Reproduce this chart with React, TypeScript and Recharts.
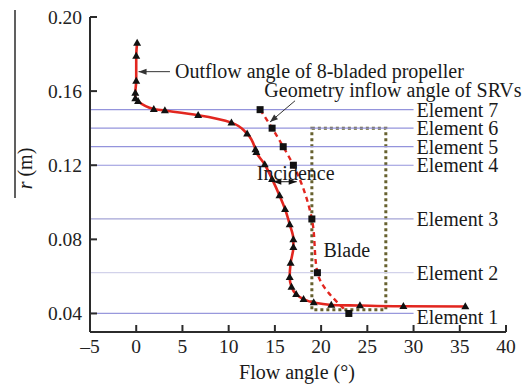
import React from 'react';
import {
  ComposedChart,
  Line,
  Scatter,
  XAxis,
  YAxis,
  ReferenceLine,
  ReferenceArea,
  Label,
} from 'recharts';

// Outflow angle of the 8-bladed propeller (solid curve, triangle markers)
const outflowAngle = [
  0.1, 0, 0, -0.1, -0.1, 0.2, 1.9, 3.1, 6.7, 10.3, 12.0, 12.9, 13.0, 13.9, 14.7,
  15.5, 16.1, 16.6, 17.0, 17.0, 16.7, 16.6, 16.8, 17.3, 18.1, 19.2, 21.1, 24.2,
  28.9, 35.6,
];
const outflowRadius = [
  0.186, 0.179, 0.1655, 0.159, 0.156, 0.1545, 0.1503, 0.1495, 0.147, 0.143,
  0.137, 0.1285, 0.127, 0.1204, 0.1125, 0.1037, 0.0963, 0.0881, 0.08, 0.0758,
  0.0672, 0.0596, 0.0543, 0.0504, 0.0477, 0.0459, 0.0446, 0.0443, 0.0439,
  0.0438,
];

// Geometry inflow angle of the SRVs (dashed curve, square markers)
const geometryAngle = [13.4, 14.7, 15.9, 17.0, 19.0, 19.6, 23.0];
const geometryRadius = [0.15, 0.14, 0.13, 0.12, 0.091, 0.062, 0.04];

// Blade element radii
const elementNames = [
  'Element 1',
  'Element 2',
  'Element 3',
  'Element 4',
  'Element 5',
  'Element 6',
  'Element 7',
];
const elementRadius = [0.04, 0.062, 0.091, 0.12, 0.13, 0.14, 0.15];
const elementSpan = [-5, 30];

// Blade region
const bladeAngle = [19, 27];
const bladeRadius = [0.042, 0.14];

// Axes
const xTicks = [-5, 0, 5, 10, 15, 20, 25, 30, 35, 40];
const yTicks = [0.04, 0.08, 0.12, 0.16, 0.2];
const xDomain = [-5, 40];
const yDomain = [0.03, 0.2];

// Annotations
const annotationText = ['Outflow angle of 8-bladed propeller', 'Geometry inflow angle of SRVs', 'Incidence', 'Blade'];
const annotationAngle = [4.2, 13.86, 17.25, 22.77];
const annotationRadius = [0.1705, 0.1606, 0.1156, 0.0742];

const outflowArrow = { angle: [3.65, 0.25], radius: [0.1705, 0.1705] };
const geometryArrow = { angle: [17.18, 14.47], radius: [0.1548, 0.1433] };
const incidenceArrowLeft = { angle: [16.1, 14.83], radius: [0.1111, 0.1111] };
const incidenceArrowRight = { angle: [16.1, 17.36], radius: [0.1111, 0.1111] };

const zip = (a: number[], r: number[]) => a.map((v, i) => ({ a: v, r: r[i] }));

const outflowData = zip(outflowAngle, outflowRadius);
const geometryData = zip(geometryAngle, geometryRadius);
const elementLabelData = elementRadius.map((r, i) => ({ a: elementSpan[1], r, name: elementNames[i] }));
const annotationData = annotationText.map((t, i) => ({ a: annotationAngle[i], r: annotationRadius[i], name: t }));

const FONT = '"Liberation Serif", "Times New Roman", serif';
const AXIS = '#2b2b2b';
const RED = '#e2261f';
const elementColors = ['#9898dc', '#d2d2ea', '#a4a4d6', '#9494dc', '#9494dc', '#9494dc', '#9494dc'];

const XTick = (p: any) => {
  const { x, y, payload } = p;
  const v = payload.value as number;
  return (
    <g>
      <line x1={x} y1={y} x2={x} y2={y - 7} stroke={AXIS} strokeWidth={2} />
      <text x={x} y={y + 21} textAnchor="middle" fontFamily={FONT} fontSize={19.5} fill="#222">
        {v < 0 ? `\u2013${-v}` : `${v}`}
      </text>
    </g>
  );
};

const YTick = (p: any) => {
  const { x, y, payload } = p;
  const v = payload.value as number;
  return (
    <g>
      <line x1={x} y1={y} x2={x + 7} y2={y} stroke={AXIS} strokeWidth={2} />
      <text x={x - 8} y={y + 7} textAnchor="end" fontFamily={FONT} fontSize={19.5} fill="#222">
        {v.toFixed(2)}
      </text>
    </g>
  );
};

const Triangle = (p: any) => {
  const { cx, cy, index } = p;
  if (cx == null || cy == null) return <g key={`t${index}`} />;
  return <path key={`t${index}`} d={`M${cx},${cy - 4.2}L${cx + 4},${cy + 2.8}L${cx - 4},${cy + 2.8}Z`} fill="#111" />;
};

const Square = (p: any) => {
  const { cx, cy, index } = p;
  if (cx == null || cy == null) return <g key={`s${index}`} />;
  return <rect key={`s${index}`} x={cx - 3.5} y={cy - 3.5} width={7} height={7} fill="#111" />;
};

// Draws an arrowhead at the second point, pointing away from the first one.
function makeArrowDot(color: string) {
  let tail: { cx: number; cy: number } | null = null;
  return (p: any) => {
    const { cx, cy, index } = p;
    if (index === 0 || !tail) {
      tail = { cx, cy };
      return <g key={`h${index}`} />;
    }
    const ang = Math.atan2(cy - tail.cy, cx - tail.cx);
    const len = 8;
    const half = 3;
    const bx = cx - len * Math.cos(ang);
    const by = cy - len * Math.sin(ang);
    const px = -Math.sin(ang) * half;
    const py = Math.cos(ang) * half;
    return (
      <path
        key={`h${index}`}
        d={`M${cx},${cy}L${bx + px},${by + py}L${bx - px},${by - py}Z`}
        fill={color}
      />
    );
  };
}

const ElementLabel = (p: any) => {
  const { cx, cy, payload, index } = p;
  const dy = payload.name === 'Element 1' ? 11 : 7;
  return (
    <text key={`e${index}`} x={cx + 3} y={cy + dy} fontFamily={FONT} fontSize={20} fill="#1a1a1a">
      {payload.name}
    </text>
  );
};

const AnnotationLabel = (p: any) => {
  const { cx, cy, payload, index } = p;
  const centered = payload.name === 'Incidence' || payload.name === 'Blade';
  return (
    <text
      key={`n${index}`}
      x={cx}
      y={cy + 6.5}
      textAnchor={centered ? 'middle' : 'start'}
      fontFamily={FONT}
      fontSize={20}
      fill="#1a1a1a"
    >
      {payload.name}
    </text>
  );
};

const YTitle = (p: any) => {
  const vb = p.viewBox || { x: 30, y: 17, width: 60, height: 315 };
  const cx = vb.x - 5;
  const cy = vb.y + vb.height / 2 - 6;
  return (
    <g>
      <line x1={vb.x - 15} y1={vb.y - 7} x2={vb.x - 15} y2={vb.y + 181} stroke={AXIS} strokeWidth={1.5} />
      <text
        x={cx}
        y={cy}
        transform={`rotate(-90 ${cx} ${cy})`}
        textAnchor="middle"
        dominantBaseline="central"
        fontFamily={FONT}
        fontSize={20}
        fill="#1a1a1a"
      >
        <tspan fontStyle="italic">r</tspan>
        <tspan> (m)</tspan>
      </text>
    </g>
  );
};

const XTitle = (p: any) => {
  const vb = p.viewBox || { x: 90, y: 332, width: 416, height: 50 };
  return (
    <text
      x={vb.x + vb.width / 2 - 1}
      y={vb.y + 47}
      textAnchor="middle"
      fontFamily={FONT}
      fontSize={20}
      fill="#1a1a1a"
    >
      Flow angle (°)
    </text>
  );
};

export default function App() {
  const arrowA = makeArrowDot('#333');
  const arrowB = makeArrowDot('#333');
  const arrowC = makeArrowDot('#111');
  const arrowD = makeArrowDot('#111');
  return (
    <div style={{ position: 'absolute', left: 0, top: 0, width: 532, height: 388, background: '#fff', fontFamily: FONT }}>
      <ComposedChart width={532} height={388} margin={{ top: 17, right: 26, bottom: 6, left: 30 }}>
        <XAxis
          type="number"
          dataKey="a"
          domain={xDomain}
          ticks={xTicks}
          interval={0}
          height={50}
          tickSize={0}
          tickMargin={0}
          tickLine={false}
          tick={<XTick />}
          axisLine={{ stroke: AXIS, strokeWidth: 2 }}
        >
          <Label content={<XTitle />} />
        </XAxis>
        <YAxis
          type="number"
          dataKey="r"
          domain={yDomain}
          ticks={yTicks}
          interval={0}
          width={60}
          tickSize={0}
          tickMargin={0}
          tickLine={false}
          tick={<YTick />}
          axisLine={{ stroke: AXIS, strokeWidth: 2 }}
        >
          <Label content={<YTitle />} />
        </YAxis>

        {elementRadius.map((r, i) => (
          <ReferenceLine
            key={`el${i}`}
            segment={[
              { x: elementSpan[0], y: r },
              { x: elementSpan[1], y: r },
            ]}
            stroke={elementColors[i]}
            strokeWidth={1.2}
          />
        ))}

        <ReferenceArea
          x1={bladeAngle[0]}
          x2={bladeAngle[1]}
          y1={bladeRadius[0]}
          y2={bladeRadius[1]}
          fill="none"
          fillOpacity={0}
          stroke="#67612f"
          strokeWidth={3}
          strokeDasharray="3 3"
        />

        <Line
          data={geometryData}
          dataKey="r"
          type="monotoneY"
          stroke={RED}
          strokeWidth={2.4}
          strokeDasharray="5 4"
          dot={Square}
          isAnimationActive={false}
        />
        <Line
          data={outflowData}
          dataKey="r"
          type="monotoneY"
          stroke={RED}
          strokeWidth={2.6}
          dot={Triangle}
          isAnimationActive={false}
        />

        <Line data={zip(outflowArrow.angle, outflowArrow.radius)} dataKey="r" type="linear" stroke="#333" strokeWidth={1} dot={arrowA} isAnimationActive={false} />
        <Line data={zip(geometryArrow.angle, geometryArrow.radius)} dataKey="r" type="linear" stroke="#333" strokeWidth={1} dot={arrowB} isAnimationActive={false} />
        <Line data={zip(incidenceArrowLeft.angle, incidenceArrowLeft.radius)} dataKey="r" type="linear" stroke="#111" strokeWidth={1} dot={arrowC} isAnimationActive={false} />
        <Line data={zip(incidenceArrowRight.angle, incidenceArrowRight.radius)} dataKey="r" type="linear" stroke="#111" strokeWidth={1} dot={arrowD} isAnimationActive={false} />

        <Scatter data={elementLabelData} shape={ElementLabel} isAnimationActive={false} />
        <Scatter data={annotationData} shape={AnnotationLabel} isAnimationActive={false} />
      </ComposedChart>
    </div>
  );
}
